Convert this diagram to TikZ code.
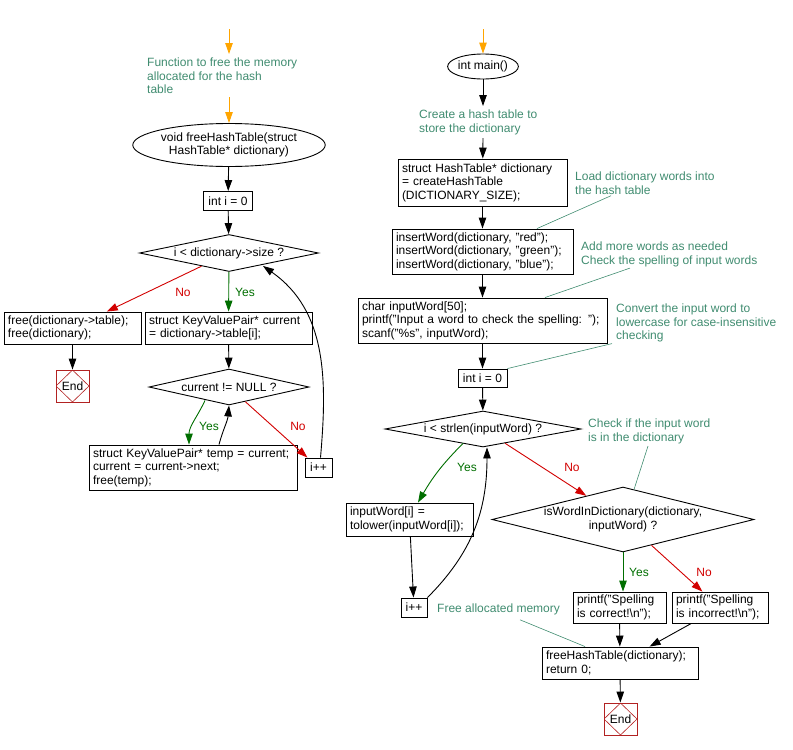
\documentclass[tikz,border=0pt]{standalone}
\usepackage{fontspec}
\setmainfont{Liberation Sans}
\usepackage{xcolor}
\usepackage{tikz}
\usetikzlibrary{shapes.geometric, arrows.meta, calc}

\definecolor{cmtgreen}{RGB}{64,140,112}
\definecolor{yesgreen}{RGB}{0,110,0}
\definecolor{nored}{RGB}{210,0,0}
\definecolor{endred}{RGB}{178,34,34}
\definecolor{startorange}{RGB}{255,165,0}

\begin{document}
\begin{tikzpicture}[x=1pt, y=1pt, font=\fontsize{12}{13.5}\selectfont,
  every node/.style={inner sep=0pt},
  flow/.style={line width=0.9pt, -{Triangle[length=11pt,width=7.5pt]}},
  start/.style={flow, draw=startorange, -{Triangle[length=11pt,width=7.5pt,fill=startorange]}},
  yesflow/.style={flow, draw=yesgreen, -{Triangle[length=11pt,width=7.5pt,fill=yesgreen]}},
  noflow/.style={flow, draw=nored, -{Triangle[length=11pt,width=7.5pt,fill=nored]}},
  note/.style={line width=0.6pt, draw=cmtgreen},
  stmt/.style={rectangle, draw, line width=0.9pt, align=left, inner xsep=4pt},
  cond/.style={diamond, draw, line width=0.9pt, align=center},
  func/.style={ellipse, draw, line width=0.9pt, align=center},
  cmt/.style={anchor=north west, align=left, text=cmtgreen},
  yeslbl/.style={text=yesgreen},
  nolbl/.style={text=nored},
  endbox/.style={rectangle, draw=endred, line width=0.9pt, minimum width=33, minimum height=32,
    path picture={\draw[endred, line width=0.6pt] (path picture bounding box.north) -- (path picture bounding box.east)
      -- (path picture bounding box.south) -- (path picture bounding box.west) -- cycle;}}]
\useasboundingbox (0,0) rectangle (793,-750);

\coordinate(fstart) at (229,-29);
\node(fcmt)[cmt] at (147,-58) {Function to free the memory\\allocated for the hash\\table};
\node(ffun)[func, minimum width=163, minimum height=43] at (229,-145) {void freeHashTable(struct\\HashTable* dictionary)};
\node(fi0)[stmt, minimum width=49, minimum height=19] at (228,-201) {int i = 0};
\node(fcond)[cond, aspect=4.8, minimum width=179, minimum height=37] at (229,-253) {i < dictionary->size ?};
\node(ffree)[stmt, text width=129, minimum height=32] at (72.5,-328) {free(dictionary->table);\\free(dictionary);};
\node(fcur)[stmt, text width=159, minimum height=32] at (228.5,-328) {struct KeyValuePair* current\\= dictionary->table[i];};
\node(fend)[endbox] at (72.5,-386) {End};
\node(fnull)[cond, aspect=4.4, minimum width=160, minimum height=36] at (229,-387) {current != NULL ?};
\node(ftemp)[stmt, text width=200, minimum height=45] at (193,-467.5) {struct KeyValuePair* temp = current;\\current = current->next;\\free(temp);};
\node(finc)[stmt, inner xsep=3pt, minimum width=27, minimum height=19] at (318.5,-467.5) {i++};

\node(fyes)[yeslbl] at (245,-292) {Yes};
\node(fno)[nolbl] at (183,-292) {No};
\node(fyes2)[yeslbl] at (209,-426) {Yes};
\node(fno2)[nolbl] at (298,-426) {No};

\draw[start] (fstart) -- ([yshift=4]fstart |- fcmt.north);
\draw[start] ([yshift=-3]fcmt.south -| ffun.north) -- (ffun);
\draw[flow] (ffun) -- (fi0);
\draw[flow] (fi0) -- (fcond);
\draw[yesflow] (fcond) -- (fcur);
\draw[noflow] (fcond) -- (ffree);
\draw[flow] (ffree) -- (fend);
\draw[flow] (fcur) -- (fnull);
\draw[yesflow] ([xshift=-24,yshift=5]fnull.south) to[out=-115, in=90] ([xshift=-4]ftemp.north);
\draw[flow] ([xshift=26]ftemp.north) to[out=75, in=-95] (fnull.south);
\draw[noflow] (fnull) -- (finc);
\draw[flow] ([xshift=2]finc.north) to[out=85, in=-35] ([xshift=34,yshift=6]fcond.south);

\coordinate(mstart) at (483,-29);
\node(mmain)[func, minimum width=67, minimum height=25] at (483,-66.5) {int main()};
\node(mcmt1)[cmt] at (419,-110) {Create a hash table to\\store the dictionary};
\node(mdict)[stmt, text width=161, minimum height=47] at (482.5,-182.5) {struct HashTable* dictionary\\= createHashTable\\(DICTIONARY\_SIZE);};
\node(mcmt2)[cmt] at (575,-172) {Load dictionary words into\\the hash table};
\node(mins)[stmt, text width=173, minimum height=45] at (482.5,-251.5) {insertWord(dictionary, "red");\\insertWord(dictionary, "green");\\insertWord(dictionary, "blue");};
\node(mcmt3)[cmt] at (581,-242) {Add more words as needed\\Check the spelling of input words};
\node(minput)[stmt, text width=241, minimum height=45] at (482.5,-320.5) {char inputWord[50];\\printf("Input a word to check the spelling: ");\\scanf("\%s", inputWord);};
\node(mcmt4)[cmt] at (616,-304) {Convert the input word to\\lowercase for case-insensitive\\checking};
\node(mi0)[stmt, minimum width=49, minimum height=18] at (482.5,-378) {int i = 0};
\node(mloop)[cond, aspect=5.4, minimum width=196, minimum height=36] at (483,-429) {i < strlen(inputWord) ?};
\node(mcmt5)[cmt] at (588,-419) {Check if the input word\\is in the dictionary};
\node(mlower)[stmt, text width=119, minimum height=33] at (409.5,-519.5) {inputWord[i] =\\tolower(inputWord[i]);};
\node(minc)[stmt, inner xsep=3pt, minimum width=26, minimum height=19] at (414,-607.5) {i++};
\node(mfind)[cond, aspect=4, minimum width=262, minimum height=65] at (623,-519.5) {isWordInDictionary(dictionary,\\inputWord) ?};
\node(mok)[stmt, text width=85, minimum height=31] at (619.5,-607.5) {printf("Spelling\\is correct!\textbackslash n");};
\node(mbad)[stmt, text width=88, minimum height=31] at (720,-607.5) {printf("Spelling\\is incorrect!\textbackslash n");};
\node(mcmt6)[cmt, anchor=west] at (437,-609) {Free allocated memory};
\node(mfree)[stmt, text width=148, minimum height=32] at (620,-663) {freeHashTable(dictionary);\\return 0;};
\node(mend)[endbox] at (620.5,-719) {End};

\node(myes)[yeslbl] at (467,-467) {Yes};
\node(mno)[nolbl] at (572,-467) {No};
\node(myes2)[yeslbl] at (639,-572) {Yes};
\node(mno2)[nolbl] at (704,-572) {No};

\draw[start] (mstart) -- (mmain);
\draw[flow] (mmain) -- ([yshift=4]mcmt1.north -| mmain);
\draw[flow] ([yshift=-3]mcmt1.south -| mmain) -- (mdict);
\draw[flow] (mdict) -- (mins);
\draw[flow] (mins) -- (minput);
\draw[flow] (minput) -- (mi0);
\draw[flow] (mi0) -- (mloop);
\draw[yesflow] ([xshift=-20,yshift=4]mloop.south) to[out=-135, in=60] ([xshift=8.5]mlower.north);
\draw[noflow] (mloop) -- (mfind);
\draw[flow] (mlower) -- (minc);
\draw[flow] (minc.north east) to[out=45, in=-90] ([xshift=4]mloop.south);
\draw[yesflow] (mfind.south) -- (mfind.south |- mok.north);
\draw[noflow] (mfind) -- (mbad);
\draw[flow] (mok) -- (mfree);
\draw[flow] (mbad) -- (mfree);
\draw[flow] (mfree) -- (mend);

\draw[note] ([xshift=36,yshift=-1]mcmt2.south west) -- ([xshift=54.5]mins.north);
\draw[note] ([xshift=49,yshift=-1]mcmt3.south west) -- ([xshift=62.5]minput.north);
\draw[note] ([xshift=-4,yshift=-1]mcmt4.south west) -- (mi0.north east);
\draw[note] ([xshift=60,yshift=-2]mcmt5.south west) -- ([xshift=11,yshift=-3]mfind.north);
\draw[note] ([xshift=83,yshift=-5]mcmt6.south west) -- ([xshift=-35]mfree.north);
\end{tikzpicture}
\end{document}
